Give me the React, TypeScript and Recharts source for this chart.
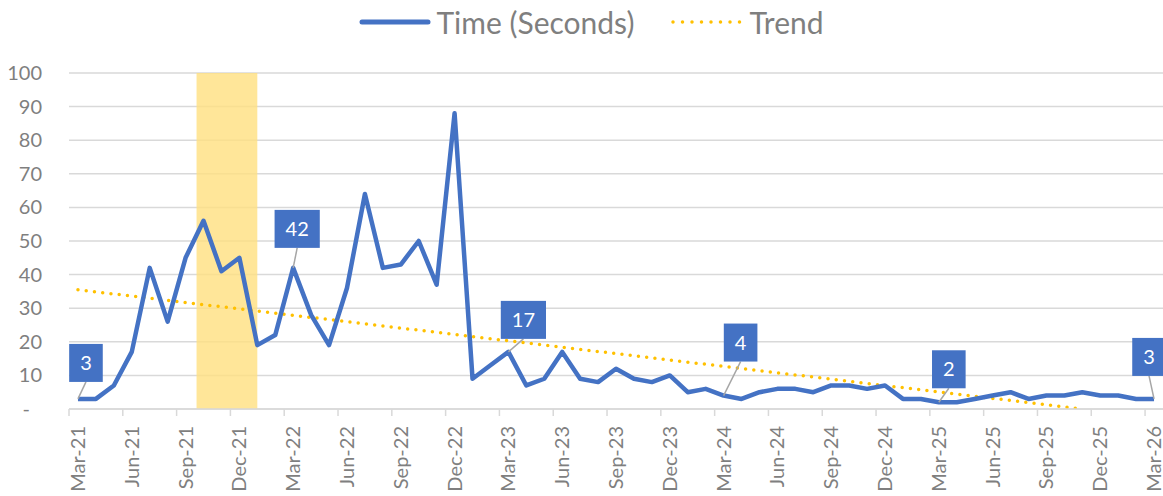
import { LineChart, Line, XAxis, YAxis, CartesianGrid, ReferenceArea, ReferenceLine, Legend } from "recharts"

const months = [
  "Mar-21", "Apr-21", "May-21", "Jun-21", "Jul-21", "Aug-21", "Sep-21", "Oct-21", "Nov-21", "Dec-21",
  "Jan-22", "Feb-22", "Mar-22", "Apr-22", "May-22", "Jun-22", "Jul-22", "Aug-22", "Sep-22", "Oct-22", "Nov-22", "Dec-22",
  "Jan-23", "Feb-23", "Mar-23", "Apr-23", "May-23", "Jun-23", "Jul-23", "Aug-23", "Sep-23", "Oct-23", "Nov-23", "Dec-23",
  "Jan-24", "Feb-24", "Mar-24", "Apr-24", "May-24", "Jun-24", "Jul-24", "Aug-24", "Sep-24", "Oct-24", "Nov-24", "Dec-24",
  "Jan-25", "Feb-25", "Mar-25", "Apr-25", "May-25", "Jun-25", "Jul-25", "Aug-25", "Sep-25", "Oct-25", "Nov-25", "Dec-25",
  "Jan-26", "Feb-26", "Mar-26",
]

const timeSeconds = [
  3, 3, 7, 17, 42, 26, 45, 56, 41, 45,
  19, 22, 42, 28, 19, 36, 64, 42, 43, 50, 37, 88,
  9, 13, 17, 7, 9, 17, 9, 8, 12, 9, 8, 10,
  5, 6, 4, 3, 5, 6, 6, 5, 7, 7, 6, 7,
  3, 3, 2, 2, 3, 4, 5, 3, 4, 4, 5, 4,
  4, 3, 3,
]

// trend line end points
const trendStart = { month: "Mar-21", value: 35.5 }
const trendEnd = { month: "Nov-25", value: 0 }

// shaded period
const highlightFrom = "Oct-21"
const highlightTo = "Dec-21"

const yTicks = [0, 10, 20, 30, 40, 50, 60, 70, 80, 90, 100]

const data = months.map((m, i) => ({ month: m, time: timeSeconds[i] }))

const W = 1163
const H = 496
const Y_AXIS_W = 69
const BAND = (W - Y_AXIS_W) / months.length
const FONT = "Lato, 'Noto Sans', sans-serif"
const GREY = "#7f7f7f"
const BLUE = "#4472C4"
const GOLD = "#FFC000"

// where each callout box sits relative to its point (box centre x, box bottom y)
const calloutOffset: Record<string, [number, number]> = {
  "Mar-21": [8, -17],
  "Mar-22": [4, -20],
  "Mar-23": [15, -13],
  "Mar-24": [17, -34],
  "Mar-25": [10, -14],
  "Mar-26": [-5, -23],
}

function MonthTick(props: any) {
  const { x, y, payload } = props
  const left = x - BAND / 2
  return (
    <g>
      <line x1={left} y1={y} x2={left} y2={y + 7} stroke="#d9d9d9" strokeWidth={1.5} />
      <text
        x={x}
        y={y + 17}
        transform={`rotate(-90, ${x}, ${y + 17})`}
        textAnchor="end"
        dy="0.35em"
        fill={GREY}
        fontSize={20}
        fontFamily={FONT}
      >
        {payload.value}
      </text>
    </g>
  )
}

function ValueTick(props: any) {
  const { x, y, payload } = props
  const zero = payload.value === 0
  return (
    <text x={zero ? x - 12 : x} y={y} dy="0.35em" textAnchor="end" fill={GREY} fontSize={20} fontFamily={FONT}>
      {zero ? "-" : payload.value}
    </text>
  )
}

function Callout(props: any) {
  const { x, y, value, index } = props
  const off = calloutOffset[months[index]]
  if (!off) return null
  const txt = String(value)
  const w = 22 + txt.length * 11.6
  const h = 38
  const cx = x + off[0]
  const bottom = y + off[1]
  return (
    <g>
      <line x1={x} y1={y} x2={cx} y2={bottom} stroke="#a6a6a6" strokeWidth={1.5} />
      <rect x={cx - w / 2} y={bottom - h} width={w} height={h} fill={BLUE} />
      <text x={cx} y={bottom - h / 2} dy="0.35em" textAnchor="middle" fill="#fff" fontSize={20} fontFamily={FONT}>
        {txt}
      </text>
    </g>
  )
}

// the shading runs a little past the last month, to the middle of the next one
function Shade(props: any) {
  const { x, y, width, height } = props
  return <rect x={x + 2} y={y} width={width + BAND / 2 - 2} height={height} fill="#FFE080" fillOpacity={0.8} />
}

function ChartLegend() {
  return (
    <div
      style={{
        height: 43,
        display: "flex",
        alignItems: "center",
        justifyContent: "center",
        paddingLeft: 20,
        fontFamily: FONT,
        fontSize: 30,
        color: GREY,
      }}
    >
      <svg width={72} height={10} style={{ marginRight: 5 }}>
        <line x1={3} y1={5} x2={69} y2={5} stroke={BLUE} strokeWidth={5} strokeLinecap="round" />
      </svg>
      <span>Time (Seconds)</span>
      <svg width={74} height={10} style={{ marginLeft: 36, marginRight: 5 }}>
        <line x1={3} y1={5} x2={71} y2={5} stroke={GOLD} strokeWidth={3.5} strokeLinecap="round" strokeDasharray="0 9.5" />
      </svg>
      <span>Trend</span>
    </div>
  )
}

export default function App() {
  return (
    <div style={{ position: "absolute", left: 0, top: 0, width: W, height: H, background: "#fff" }}>
      <LineChart width={W} height={H} data={data} margin={{ top: 30, right: 0, bottom: 0, left: 0 }}>
        <Legend verticalAlign="top" content={() => <ChartLegend />} wrapperStyle={{ top: 0, left: 0, width: W, height: 43 }} />
        <ReferenceArea x1={highlightFrom} x2={highlightTo} y1={0} y2={100} shape={(p: any) => <Shade {...p} />} />
        <CartesianGrid vertical={false} stroke="#d9d9d9" strokeWidth={1.5} />
        <XAxis
          dataKey="month"
          scale="band"
          interval={2}
          height={87}
          tickSize={0}
          tickMargin={0}
          axisLine={{ stroke: "#d9d9d9", strokeWidth: 1.5 }}
          tickLine={false}
          tick={(p: any) => <MonthTick {...p} />}
        />
        <YAxis
          domain={[0, 100]}
          ticks={yTicks}
          width={Y_AXIS_W}
          axisLine={false}
          tickLine={false}
          tickSize={0}
          tickMargin={27}
          tick={(p: any) => <ValueTick {...p} />}
        />
        <ReferenceLine
          segment={[
            { x: trendStart.month, y: trendStart.value },
            { x: trendEnd.month, y: trendEnd.value },
          ]}
          stroke={GOLD}
          strokeWidth={3.5}
          strokeDasharray="0 8.3"
          strokeLinecap="round"
          ifOverflow="hidden"
        />
        <Line
          dataKey="time"
          stroke={BLUE}
          strokeWidth={4.5}
          strokeLinejoin="round"
          dot={false}
          activeDot={false}
          isAnimationActive={false}
          label={(p: any) => <Callout {...p} />}
        />
      </LineChart>
    </div>
  )
}
